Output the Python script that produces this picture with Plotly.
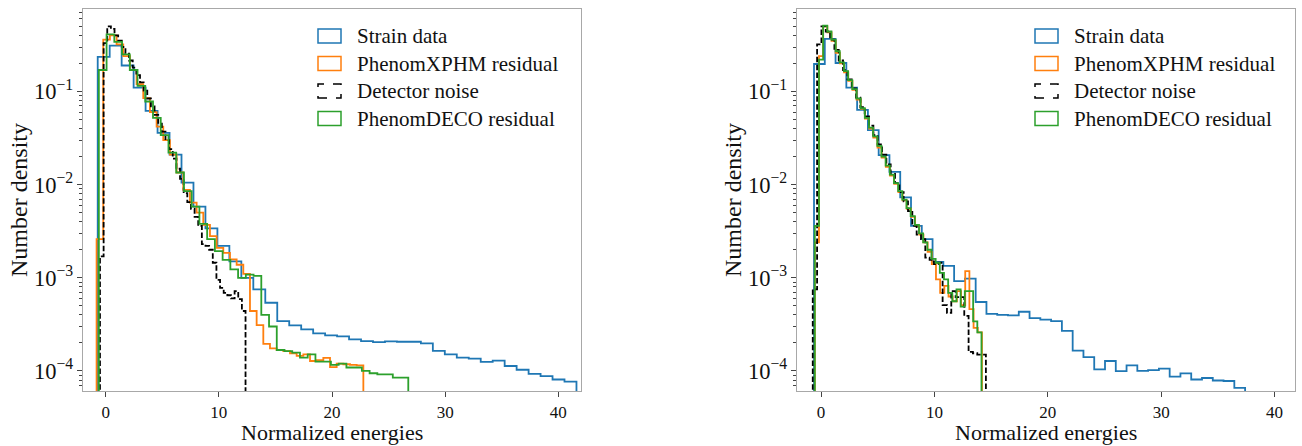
import numpy as np
import plotly.graph_objects as go

# ---------------- histogram data (number density per bin, 40 bins each) ----------------
# Left panel
left_strain_range = (-0.7, 41.6)
left_strain = [0.235, 0.31, 0.19, 0.11, 0.062, 0.036, 0.021, 0.0105, 0.0058, 0.0034,
               0.0022, 0.0015, 0.00100, 7.5e-4, 5.4e-4, 3.43e-4, 3.08e-4, 2.79e-4, 2.53e-4, 2.41e-4,
               2.35e-4, 2.18e-4, 2.09e-4, 2.04e-4, 2.08e-4, 2.06e-4, 2.06e-4, 1.98e-4, 1.64e-4, 1.51e-4,
               1.39e-4, 1.36e-4, 1.25e-4, 1.29e-4, 1.13e-4, 1.03e-4, 9.3e-5, 8.8e-5, 8.1e-5, 7.7e-5]

left_xphm_range = (-0.8, 22.77)
left_xphm = [0.0026, 0.36, 0.40, 0.32, 0.24, 0.17, 0.12, 0.085, 0.060, 0.042,
             0.030, 0.021, 0.0135, 0.0088, 0.0064, 0.0050, 0.0037, 0.0028, 0.0021, 0.00185,
             0.00158, 0.00138, 0.00110, 4.4e-4, 3.1e-4, 1.95e-4, 1.75e-4, 1.68e-4, 1.63e-4, 1.55e-4,
             1.45e-4, 1.51e-4, 1.28e-4, 1.31e-4, 1.38e-4, 1.10e-4, 1.20e-4, 1.18e-4, 1.16e-4, 1.15e-4]

left_noise_range = (-0.5, 12.36)
left_noise = [1.7e-3, 0.33, 0.50, 0.47, 0.40, 0.35, 0.30, 0.255, 0.215, 0.18,
              0.15, 0.125, 0.102, 0.084, 0.069, 0.056, 0.045, 0.037, 0.030, 0.024,
              0.019, 0.0148, 0.0115, 8.1e-3, 6.5e-3, 5.5e-3, 4.5e-3, 3.6e-3, 2.3e-3, 2.2e-3,
              2.0e-3, 1.45e-3, 9.5e-4, 7.8e-4, 6.9e-4, 6.5e-4, 6.0e-4, 7.2e-4, 5.9e-4, 4.4e-4]

left_deco_range = (-0.6, 26.74)
left_deco = [0.17, 0.41, 0.34, 0.25, 0.17, 0.115, 0.078, 0.052, 0.034, 0.022,
             0.0135, 0.0085, 0.0058, 0.0038, 0.0026, 0.00193, 0.00156, 0.00123, 0.00100, 0.00108,
             0.00105, 4.0e-4, 3.0e-4, 1.68e-4, 1.63e-4, 1.57e-4, 1.39e-4, 1.51e-4, 1.26e-4, 1.26e-4,
             1.16e-4, 1.20e-4, 1.09e-4, 1.09e-4, 1.00e-4, 9.45e-5, 9.2e-5, 9.2e-5, 8.5e-5, 8.5e-5]

# Right panel
right_strain_range = (-0.62, 37.4)
right_strain = [0.197, 0.367, 0.202, 0.110, 0.0634, 0.0385, 0.0207, 0.0137, 0.0073, 3.6e-3,
                2.6e-3, 1.48e-3, 1.34e-3, 9.2e-4, 9.8e-4, 5.5e-4, 4.1e-4, 4.0e-4, 3.95e-4, 4.32e-4,
                3.7e-4, 3.55e-4, 3.43e-4, 2.69e-4, 1.65e-4, 1.41e-4, 1.04e-4, 1.28e-4, 9.95e-5, 1.15e-4,
                1.0e-4, 1.02e-4, 1.06e-4, 8.7e-5, 9.4e-5, 8.1e-5, 8.4e-5, 7.9e-5, 7.8e-5, 6.6e-5]

right_xphm_range = (-0.55, 14.19)
right_xphm = [2.4e-3, 0.24, 0.50, 0.43, 0.35, 0.26, 0.20, 0.16, 0.13, 0.104,
              0.082, 0.065, 0.051, 0.040, 0.032, 0.025, 0.0195, 0.0155, 0.0125, 0.0102,
              0.0083, 0.0068, 0.0055, 0.0045, 0.0036, 0.0029, 0.0024, 0.0019, 0.0014, 9.6e-4,
              6.9e-4, 8.2e-4, 6.3e-4, 5.6e-4, 7.2e-4, 5.1e-4, 1.18e-3, 4.6e-4, 2.9e-4, 2.6e-4]

right_noise_range = (-0.73, 14.54)
right_noise = [7.5e-4, 0.32, 0.50, 0.44, 0.36, 0.28, 0.215, 0.17, 0.135, 0.108,
               0.086, 0.068, 0.054, 0.043, 0.034, 0.027, 0.021, 0.0165, 0.013, 0.0104,
               0.0083, 0.0066, 0.0052, 3.6e-3, 2.9e-3, 2.6e-3, 1.65e-3, 1.56e-3, 1.4e-3, 1.45e-3,
               5.1e-4, 4.2e-4, 7.2e-4, 6.2e-4, 6.2e-4, 3.9e-4, 1.6e-4, 1.55e-4, 1.5e-4, 1.5e-4]

right_deco_range = (-0.55, 14.15)
right_deco = [3.6e-3, 0.22, 0.51, 0.44, 0.36, 0.27, 0.205, 0.165, 0.132, 0.106,
              0.084, 0.066, 0.052, 0.041, 0.033, 0.026, 0.020, 0.016, 0.0128, 0.0104,
              0.0085, 0.0069, 0.0056, 0.0046, 0.0037, 0.0030, 0.0024, 0.0020, 0.0016, 1.45e-3,
              1.13e-3, 9.6e-4, 6.9e-4, 5.6e-4, 7.5e-4, 4.9e-4, 7.2e-4, 7.2e-4, 3.4e-4, 2.6e-4]

series_names = ["Strain data", "PhenomXPHM residual", "Detector noise", "PhenomDECO residual"]
series_colors = ["#1f77b4", "#ff7f0e", "#000000", "#2ca02c"]
series_dash = ["solid", "solid", "5.5px,2.4px", "solid"]

x_ticks = [0, 10, 20, 30, 40]
x_title = "Normalized energies"
y_title = "Number density"

FONT = "Liberation Serif"
BASELINE = 1e-7   # step outline drops to (below) the bottom of the log axis
LW = 1.8


def step_outline(rng, vals):
    """Outline of a step histogram (histtype='step') from bin range and densities."""
    edges = np.linspace(rng[0], rng[1], len(vals) + 1)
    xs, ys = [edges[0]], [BASELINE]
    for i, v in enumerate(vals):
        xs += [edges[i], edges[i + 1]]
        ys += [v, v]
    xs.append(edges[-1])
    ys.append(BASELINE)
    return xs, ys


panels = [
    ("x", "y", [(left_strain_range, left_strain), (left_xphm_range, left_xphm),
                (left_noise_range, left_noise), (left_deco_range, left_deco)]),
    ("x2", "y2", [(right_strain_range, right_strain), (right_xphm_range, right_xphm),
                  (right_noise_range, right_noise), (right_deco_range, right_deco)]),
]

fig = go.Figure()
for xa, ya, data in panels:
    for k, (rng, vals) in enumerate(data):
        xs, ys = step_outline(rng, vals)
        fig.add_trace(go.Scatter(
            x=xs, y=ys, mode="lines", xaxis=xa, yaxis=ya,
            name=series_names[k], showlegend=False, hoverinfo="skip",
            line=dict(color=series_colors[k], width=LW, dash=series_dash[k], shape="linear"),
        ))

# ---------------- layout ----------------
W, H = 1302, 446
ML, MR, MT, MB = 83, 7, 9, 55
plot_w = W - ML - MR
plot_h = H - MT - MB
panel_w = 498
left_dom = [0, panel_w / plot_w]
right_dom = [1 - panel_w / plot_w, 1]

spine = "#a8a8a8"
axis_common = dict(
    showline=True, linecolor=spine, linewidth=1.3, mirror=True,
    showgrid=False, zeroline=False,
    ticks="outside", ticklen=5, tickwidth=1.1, tickcolor="#444444",
    tickfont=dict(family=FONT, size=18, color="#111111"),
)
xaxis_cfg = dict(axis_common, range=[-2.0, 42.0], tickmode="array", tickvals=x_ticks,
                 tickfont=dict(family=FONT, size=17, color="#111111"))
yaxis_cfg = dict(
    axis_common, type="log", range=[-4.215, -0.115], dtick=1, exponentformat="power",
    minor=dict(ticks="outside", ticklen=3, tickwidth=0.8, tickcolor="#444444", dtick="D1", showgrid=False),
)

fig.update_layout(
    width=W, height=H,
    margin=dict(l=ML, r=MR, t=MT, b=MB),
    paper_bgcolor="white", plot_bgcolor="white",
    showlegend=False,
    font=dict(family=FONT, color="#111111"),
    xaxis=dict(xaxis_cfg, domain=left_dom, anchor="y"),
    yaxis=dict(yaxis_cfg, domain=[0, 1], anchor="x"),
    xaxis2=dict(xaxis_cfg, domain=right_dom, anchor="y2", range=[-2.12, 41.8]),
    yaxis2=dict(yaxis_cfg, domain=[0, 1], anchor="x2"),
)


def px_x(px):
    return (px - ML) / plot_w


def px_y(py):
    return (H - MB - py) / plot_h


annotations = []
shapes = []
# axis titles
for dom in (left_dom, right_dom):
    cx = (dom[0] + dom[1]) / 2
    annotations.append(dict(text=x_title, x=cx, y=0, xref="paper", yref="paper",
                            xanchor="center", yanchor="bottom", yshift=-55, borderpad=0,
                            showarrow=False, font=dict(family=FONT, size=22, color="#111111")))
    annotations.append(dict(text=y_title, x=dom[0], y=0.5, xref="paper", yref="paper",
                            xanchor="center", yanchor="middle", xshift=-64, textangle=-90,
                            showarrow=False, font=dict(family=FONT, size=24, color="#111111")))

# legends (outlined patches + labels)
row_centres = [36, 63.5, 91, 118.5]
for patch_left in (318, 1035):
    for k, cy in enumerate(row_centres):
        shapes.append(dict(type="rect", xref="paper", yref="paper",
                           x0=px_x(patch_left), x1=px_x(patch_left + 23),
                           y0=px_y(cy + 7), y1=px_y(cy - 7),
                           line=dict(color=series_colors[k], width=1.5, dash="dash" if k == 2 else "solid"),
                           fillcolor="rgba(0,0,0,0)"))
        annotations.append(dict(text=series_names[k], x=px_x(patch_left + 37), y=px_y(cy),
                                xref="paper", yref="paper", xanchor="left", yanchor="middle",
                                showarrow=False, font=dict(family=FONT, size=21, color="#111111")))

fig.update_layout(annotations=annotations, shapes=shapes)
fig.write_html("out.html")
